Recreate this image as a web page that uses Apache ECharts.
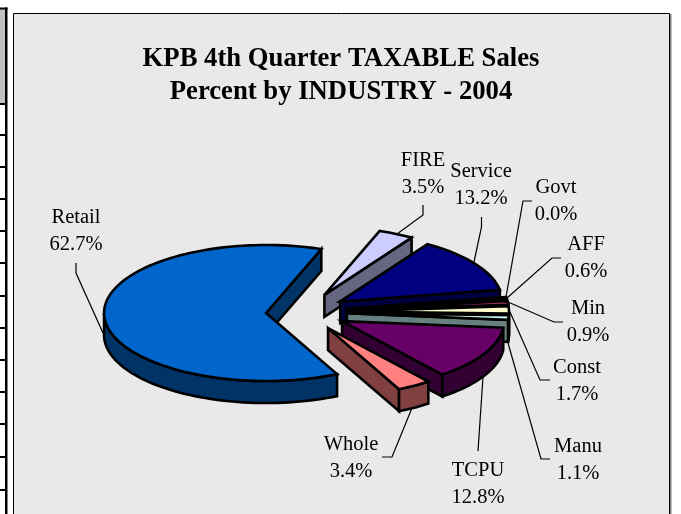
<!DOCTYPE html>
<html><head><meta charset="utf-8">
<script src="https://cdn.jsdelivr.net/npm/echarts@6/dist/echarts.min.js"></script>
<style>html,body{margin:0;padding:0;background:#fff}#c{width:681px;height:514px}</style>
</head><body><div id="c"></div>
<script>
// Data (paint order = clockwise from Retail)
var categories = ['Retail','FIRE','Service','Govt','AFF','Min','Const','Manu','TCPU','Whole'];
var percents   = [62.7,3.5,13.2,0.0,0.6,0.9,1.7,1.1,12.8,3.4];
var topColors  = ['#0066CC','#CCCCFF','#000080','#FF00FF','#9999FF','#993366','#FFFFCC','#CCFFFF','#660066','#FF8080'];
var sideColors = ['#003366','#666680','#000040','#800080','#4D4D80','#4D1933','#808066','#668080','#330033','#804040'];
// Label layout: text centre, and leader elbow + stub end
var labelCenters = [[76,231],[423,174],[481,185],[556,201],[586,258],[588,322],[577,381],[578,460],[478,484],[351,458]];
var leaders = [
 [[76,263],[76,273],[103,333]],
 [[423,205],[423,215],[397,234]],
 [[481.5,217],[481.5,227],[474,262]],
 [[532,201],[523,201],[506,297]],
 [[561,258],[552,258],[507,298]],
 [[563,322],[554,322],[508,302]],
 [[550,380],[540,380],[510,312]],
 [[550,459],[541,459],[508,343]],
 [[478,451],[478,451],[483,377]],
 [[382,457],[392,457],[412,408]]
];
var rowLines = [104,135,167,199,231,263,296,328,360,392,424,457,490];

// 3D pie projection
var CX=306.5, CY=312, RX=162, RY=68, DEPTH=22, EXPLODE_X=0.25, EXPLODE_Y=0.28, START_ANGLE=-64;
var total = percents.reduce(function(a,b){return a+b;},0);
var D = Math.PI/180;
function arcPts(cx,cy,a,b,dy){ // a -> b in degrees (param angle)
  var n=Math.max(2,Math.ceil(Math.abs(a-b)/2)),p=[];
  for(var i=0;i<=n;i++){var t=(a+(b-a)*i/n)*D;p.push([cx+RX*Math.cos(t),cy-RY*Math.sin(t)+(dy||0)]);}
  return p;
}
function poly(points,fill){
  return {type:'polygon',shape:{points:points},style:{fill:fill,stroke:'#000',lineWidth:2.6,lineJoin:'miter',miterLimit:6}};
}
function renderSlice(params,api){
  var i=params.dataIndex, before=0;
  for(var k=0;k<i;k++) before+=percents[k];
  var v=api.value(0);
  var a=START_ANGLE-before/total*360, b=a-v/total*360, mid=(a+b)/2;
  var ax=CX+EXPLODE_X*RX*Math.cos(mid*D), ay=CY-EXPLODE_Y*RY*Math.sin(mid*D);
  var kids=[];
  function wall(t){
    var p=[ax+RX*Math.cos(t*D),ay-RY*Math.sin(t*D)];
    kids.push(poly([[ax,ay],p,[p[0],p[1]+DEPTH],[ax,ay+DEPTH]],sideColors[i]));
  }
  if(Math.cos(a*D)<0) wall(a);
  if(Math.cos(b*D)>0) wall(b);
  // visible outer wall: the part of the arc whose screen side faces down (-180..0, mod 360)
  for(var off=0;off>=-360;off-=360){
    var s=Math.min(a,0+off), e=Math.max(b,-180+off);
    if(s>e){
      var up=arcPts(ax,ay,s,e,0), dn=arcPts(ax,ay,e,s,DEPTH);
      kids.push(poly(up.concat(dn),sideColors[i]));
    }
  }
  kids.push(poly([[ax,ay]].concat(arcPts(ax,ay,a,b,0)),topColors[i]));
  return {type:'group',children:kids};
}
function renderLabel(params,api){
  var i=params.dataIndex, c=labelCenters[i];
  return {type:'group',children:[
    {type:'polyline',shape:{points:leaders[i]},style:{fill:null,stroke:'#000',lineWidth:1.2}},
    {type:'text',style:{x:c[0],y:c[1],text:categories[i]+'\n'+api.value(0).toFixed(1)+'%',
      align:'center',verticalAlign:'middle',fill:'#000',fontFamily:'Liberation Serif',fontSize:20.5,lineHeight:26.5}}
  ]};
}
var deco=[
  {type:'rect',shape:{x:0,y:9,width:5,height:94},style:{fill:'#C0C0C0'},z:0},
  {type:'rect',shape:{x:0,y:7.5,width:7.5,height:2},style:{fill:'#000'},z:0},
  {type:'rect',shape:{x:5,y:7.5,width:2.5,height:506.5},style:{fill:'#000'},z:0},
  {type:'rect',shape:{x:13.5,y:13.5,width:656,height:502},style:{fill:'#E9E9E9',stroke:'#000',lineWidth:1},z:0},
  {type:'rect',shape:{x:670,y:14,width:1.5,height:500},style:{fill:'#808080'},z:0}
];
rowLines.forEach(function(y){deco.push({type:'rect',shape:{x:0,y:y-1,width:6,height:2},style:{fill:'#000'},z:0});});
var data=percents.map(function(p){return [p];});
var chart=echarts.init(document.getElementById('c'),null,{renderer:'canvas'});
chart.setOption({
  animation:false,backgroundColor:'#fff',
  title:{text:'KPB 4th Quarter TAXABLE Sales\nPercent by INDUSTRY - 2004',left:336,top:38,textAlign:'center',
    textStyle:{fontFamily:'Liberation Serif',fontWeight:'bold',fontSize:26.7,lineHeight:33,color:'#000'}},
  graphic:{elements:deco},
  series:[
    {type:'custom',coordinateSystem:'none',renderItem:renderLabel,data:data,silent:true,z:3},
    {type:'custom',coordinateSystem:'none',renderItem:renderSlice,data:data,silent:true,z:4}
  ]
});
</script></body></html>
